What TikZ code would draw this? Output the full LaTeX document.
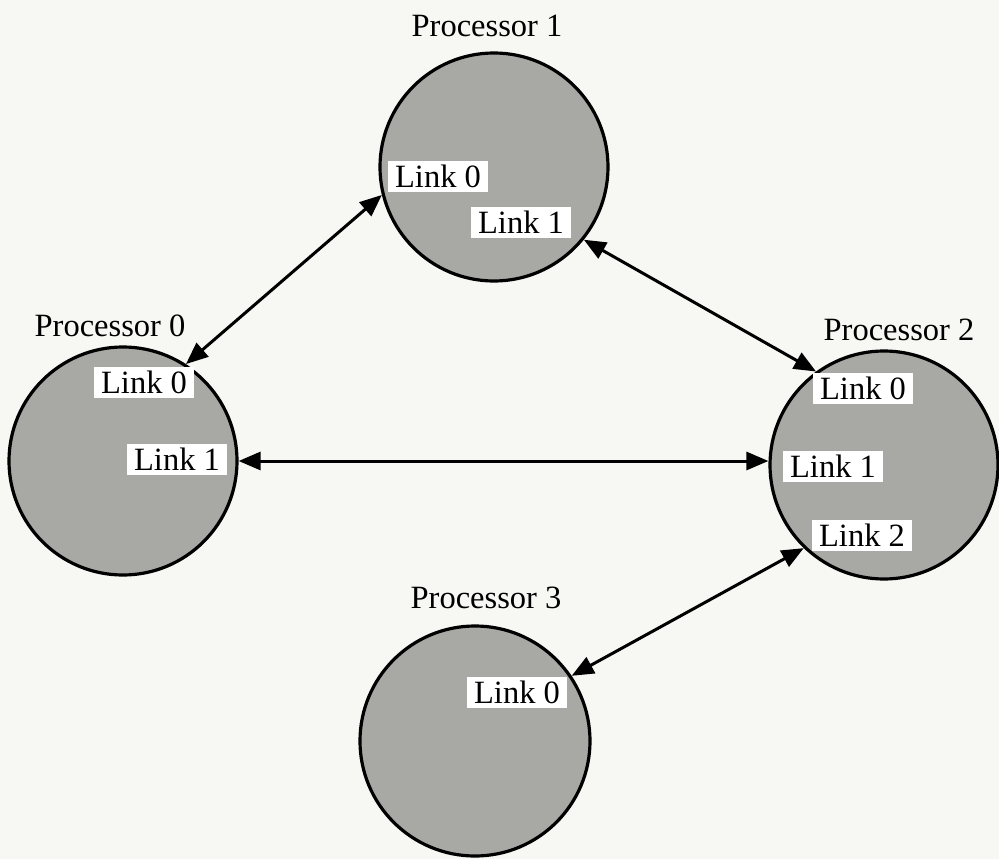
\documentclass[tikz,border=0pt]{standalone}
\usepackage{fontspec}
\setmainfont{Liberation Serif}
\usetikzlibrary{arrows.meta}
\definecolor{paper}{RGB}{247,248,243}
\definecolor{procfill}{RGB}{168,168,165}
\begin{document}
\begin{tikzpicture}[x=1pt,y=-1pt,
  txt/.style={font=\fontsize{32.5}{32.5}\selectfont},
  proc/.style={circle, draw=black, line width=3.2pt, fill=procfill,
    minimum size=228pt, inner sep=0pt},
  plabel/.style={txt, inner sep=0pt},
  linkbox/.style={txt, fill=white, minimum width=100pt, minimum height=31pt,
    inner sep=0pt},
  link/.style={line width=3pt,
    {Triangle[length=22pt,width=18pt]}-{Triangle[length=22pt,width=18pt]}}
]
% page
\fill[paper] (0,0) rectangle (999,859);
\useasboundingbox (0,0) rectangle (999,859);

% processors
\node[proc] (p0) at (123,461) {};
\node[proc] (p1) at (494,167) {};
\node[proc] (p2) at (884,465) {};
\node[proc, minimum size=230pt] (p3) at (475,741) {};

% processor names
\node[plabel] (n0) at (110,326) {Processor 0};
\node[plabel] (n1) at (487,26) {Processor 1};
\node[plabel] (n2) at (899,330) {Processor 2};
\node[plabel] (n3) at (486,598) {Processor 3};

% link ports
\node[linkbox] (p0l0) at (144,382) {Link 0};
\node[linkbox] (p0l1) at (177,459) {Link 1};
\node[linkbox] (p1l0) at (438,176) {Link 0};
\node[linkbox] (p1l1) at (521,222) {Link 1};
\node[linkbox] (p2l0) at (863,388) {Link 0};
\node[linkbox] (p2l1) at (833,466) {Link 1};
\node[linkbox] (p2l2) at (862,535) {Link 2};
\node[linkbox] (p3l0) at (517,692) {Link 0};

% links between processors
\draw[link] (p0.57) -- (p1.194);
\draw[link] (p1.321) -- (p2.126);
\draw[link] (p0.0) -- (p0.0 -| p2.west);
\draw[link] (p2.226) -- (p3.34);
\end{tikzpicture}
\end{document}
